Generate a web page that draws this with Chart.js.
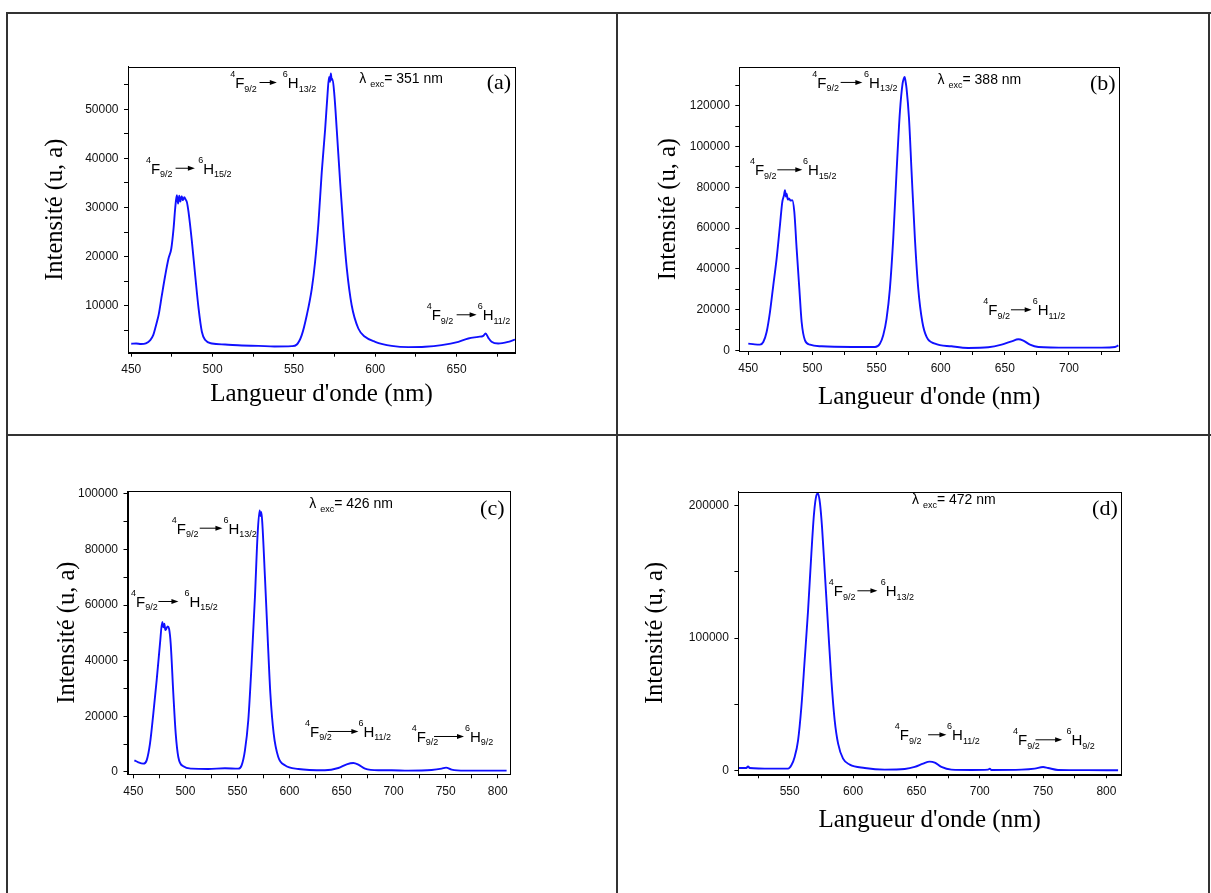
<!DOCTYPE html>
<html>
<head>
<meta charset="utf-8">
<script src="https://cdn.jsdelivr.net/npm/chart.js@4.4.1/dist/chart.umd.min.js"></script>
<style>
  body { margin: 0; background: #fff; width: 1211px; height: 893px; position: relative; overflow: hidden; }
  .ln { position: absolute; background: #333; }
  canvas { position: absolute; }
</style>
</head>
<body>
<!-- lignes du tableau -->
<div class="ln" style="left:6px;top:12px;width:1205px;height:2px"></div>
<div class="ln" style="left:6px;top:434px;width:1205px;height:2px"></div>
<div class="ln" style="left:6px;top:12px;width:2px;height:881px"></div>
<div class="ln" style="left:616px;top:12px;width:2px;height:881px"></div>
<div class="ln" style="left:1208px;top:12px;width:2px;height:881px"></div>

<canvas id="chartA" width="609" height="421" style="left:7px;top:13px"></canvas>
<canvas id="chartB" width="591" height="421" style="left:618px;top:13px"></canvas>
<canvas id="chartC" width="609" height="457" style="left:7px;top:436px"></canvas>
<canvas id="chartD" width="591" height="457" style="left:618px;top:436px"></canvas>

<script>
// (a) excitation 351 nm
const wlA = [450, 453, 456, 459, 461.7, 463.5, 464.7, 466, 466.8, 468.8, 470.9, 472.9, 474.6, 476, 477, 478, 478.8, 479.5, 480.2, 481, 481.8, 482.6, 483.5, 484.2, 485.2, 487.3, 489.3, 491.4, 493.4, 495.5, 499.6, 507.7, 518, 528.2, 538, 548.7, 551.8, 554.8, 557.9, 561, 563, 565.1, 567.1, 569.2, 570.6, 571.6, 572.2, 572.7, 573.2, 573.7, 574.9, 576.3, 578.4, 580.4, 582.5, 585.5, 589.6, 593.7, 599.9, 610.1, 620.4, 630.6, 640.8, 651.1, 657.2, 663.3, 666.4, 667.8, 669.5, 671.5, 675.6, 681.8, 685.9];
const intA = [2250, 2300, 2200, 2350, 3000, 4000, 5360, 7000, 8070, 12100, 16200, 19600, 21600, 25700, 29800, 32500, 30800, 32400, 31200, 32300, 31500, 32100, 31600, 31100, 29100, 23000, 16200, 9400, 4700, 3000, 2300, 2100, 1900, 1830, 1700, 1760, 2100, 4000, 8070, 13500, 18900, 27000, 37200, 46000, 52800, 56600, 55600, 57300, 56000, 56200, 52800, 46000, 35200, 25700, 17600, 10100, 5360, 3660, 2650, 1830, 1560, 1630, 1970, 2650, 3320, 3660, 3870, 4340, 3460, 2650, 2300, 2650, 3100];

// (b) excitation 388 nm
const wlB = [450, 455, 459.1, 461.7, 464.3, 466.9, 469.5, 472.1, 474.7, 476.5, 477.8, 478.6, 479.3, 479.9, 480.8, 481.7, 483, 484.3, 485.9, 487.7, 489.8, 491.6, 494.2, 498.1, 507.2, 530.6, 548.8, 552.6, 555.2, 557.8, 560.4, 563, 565.6, 568.2, 570.3, 571.3, 571.9, 572.6, 573.4, 575.3, 577.3, 579.9, 582.5, 585.7, 589, 595.5, 608.5, 621.5, 637.1, 647.5, 655.3, 660.5, 664.4, 669.6, 676.1, 699.5, 725.5, 735.9, 738.5];
const intB = [3270, 2900, 2780, 4090, 9000, 18800, 31900, 45000, 61400, 72800, 76000, 78600, 75500, 76900, 74000, 74500, 73500, 73700, 67900, 49900, 30300, 13900, 4900, 2780, 1960, 1640, 1640, 3270, 7370, 15550, 30300, 54800, 87600, 117000, 131000, 133500, 134200, 132000, 128500, 113800, 87600, 54800, 30300, 13900, 6550, 3270, 1960, 1150, 1470, 2780, 4420, 5400, 4750, 2780, 1640, 1310, 1310, 1640, 2450];

// (c) excitation 426 nm
const wlC = [451, 454.8, 459.6, 462.8, 466, 469.2, 472.4, 475.6, 477.8, 478.8, 479.8, 480.7, 481.7, 483, 484.3, 485.9, 488.4, 490.7, 493.2, 498, 506, 522, 538, 550.8, 554, 557.2, 560.4, 563.6, 566.8, 569.4, 571.3, 572.1, 572.9, 573.9, 576.4, 579, 581.6, 584.8, 589.2, 595.6, 608.5, 634, 646.9, 654.9, 661.3, 666.1, 672.5, 685.3, 698.1, 714.1, 736.5, 746.1, 750.3, 755.7, 768.5, 790, 808.5];
const intC = [4190, 3470, 3000, 4190, 10200, 21000, 32900, 46100, 53900, 52000, 53300, 51000, 51500, 52300, 51500, 46100, 28200, 13800, 5400, 2040, 1200, 1100, 1320, 1200, 2400, 7800, 18600, 38900, 62900, 85700, 94000, 92000, 93400, 89300, 70100, 48500, 28200, 13800, 5400, 2400, 1080, 600, 1440, 2760, 3230, 2640, 1200, 600, 600, 480, 720, 1200, 1560, 840, 480, 500, 480];

// (d) excitation 472 nm
const wlD = [509.5, 515.8, 517.1, 518.4, 535.5, 548.7, 551.3, 553.9, 556.6, 559.2, 561.8, 564.5, 567.1, 569.2, 571.1, 572.4, 573.9, 575.5, 577.6, 580.3, 582.9, 585.5, 588.2, 592.1, 597.4, 609.2, 625, 640.8, 648.7, 655.3, 660.5, 664.5, 669.7, 677.6, 693.4, 706.6, 707.9, 709.2, 732.9, 743.4, 750, 753.9, 761.8, 785, 809.2];
const intD = [1770, 1770, 3000, 1770, 1260, 1260, 3780, 10100, 22700, 47900, 83200, 121000, 164000, 194200, 208000, 209300, 201800, 184100, 151300, 108400, 68100, 37800, 20200, 8830, 4290, 1770, 500, 1000, 2520, 5040, 6560, 5800, 2520, 500, 250, 500, 1260, 250, 500, 1260, 2520, 1770, 250, 100, 0];

// graduations (majeures avec texte, mineures sans)
const xMajorA = [450, 500, 550, 600, 650];
const xMinorA = [475, 525, 575, 625, 675];
const yMajorA = [10000, 20000, 30000, 40000, 50000];
const yMinorA = [5000, 15000, 25000, 35000, 45000, 55000];

const xMajorB = [450, 500, 550, 600, 650, 700];
const xMinorB = [475, 525, 575, 625, 675, 725];
const yMajorB = [0, 20000, 40000, 60000, 80000, 100000, 120000];
const yMinorB = [10000, 30000, 50000, 70000, 90000, 110000, 130000];

const xMajorC = [450, 500, 550, 600, 650, 700, 750, 800];
const xMinorC = [475, 525, 575, 625, 675, 725, 775];
const yMajorC = [0, 20000, 40000, 60000, 80000, 100000];
const yMinorC = [10000, 30000, 50000, 70000, 90000];

const xMajorD = [550, 600, 650, 700, 750, 800];
const xMinorD = [525, 575, 625, 675, 725, 775];
const yMajorD = [0, 100000, 200000];
const yMinorD = [50000, 150000];

const xTitle = "Langueur d'onde (nm)";
const yTitle = 'Intensité (u, a)';

const serif = '"Liberation Serif", "Times New Roman", serif';
const sans = '"Liberation Sans", Arial, sans-serif';

// dessine 4F9/2 -> 6Hxx/2
function drawTransition(ctx, x, y, t) {
  let cx = x;
  ctx.textAlign = 'left';
  ctx.textBaseline = 'alphabetic';
  ctx.font = '9px ' + sans;
  ctx.fillText('4', cx, y - 11);
  cx += ctx.measureText('4').width;
  ctx.font = '15px ' + sans;
  ctx.fillText('F', cx, y);
  cx += ctx.measureText('F').width;
  ctx.font = '9px ' + sans;
  ctx.fillText('9/2', cx, y + 3.5);
  cx += ctx.measureText('9/2').width + t.a0;
  const ay = y - 5.5;
  ctx.lineWidth = 1;
  ctx.beginPath();
  ctx.moveTo(cx, ay);
  ctx.lineTo(cx + t.len - 5, ay);
  ctx.stroke();
  ctx.beginPath();
  ctx.moveTo(cx + t.len, ay);
  ctx.lineTo(cx + t.len - 7, ay - 2.5);
  ctx.lineTo(cx + t.len - 7, ay + 2.5);
  ctx.closePath();
  ctx.fill();
  cx += t.len + t.g;
  ctx.font = '9px ' + sans;
  ctx.fillText('6', cx, y - 11);
  cx += ctx.measureText('6').width;
  ctx.font = '15px ' + sans;
  ctx.fillText('H', cx, y);
  cx += ctx.measureText('H').width;
  ctx.font = '9px ' + sans;
  ctx.fillText(t.lo, cx, y + 3.5);
}

const panelPlugin = {
  id: 'panel',
  afterDatasetsDraw(chart, args, opts) {
    const ctx = chart.ctx;
    const a = chart.chartArea;
    const sx = chart.scales.x, sy = chart.scales.y;
    ctx.save();
    ctx.strokeStyle = '#000';
    ctx.fillStyle = '#000';
    ctx.lineWidth = 1;
    ctx.strokeRect(Math.round(a.left) + 0.5, Math.round(a.top) + 0.5, Math.round(a.right - a.left), Math.round(a.bottom - a.top));

    opts.trans.forEach(t => {
      drawTransition(ctx, sx.getPixelForValue(t.x), sy.getPixelForValue(t.y), t);
    });

    // lambda exc
    let lx = sx.getPixelForValue(opts.lam.x), ly = sy.getPixelForValue(opts.lam.y);
    ctx.textAlign = 'left';
    ctx.font = '14px ' + sans;
    ctx.fillText('λ ', lx, ly);
    lx += ctx.measureText('λ ').width;
    ctx.font = '9px ' + sans;
    ctx.fillText('exc', lx, ly + 4.5);
    lx += ctx.measureText('exc').width;
    ctx.font = '14px ' + sans;
    ctx.fillText(opts.lam.t, lx, ly);

    ctx.font = '22px ' + serif;
    ctx.fillText(opts.tag.t, sx.getPixelForValue(opts.tag.x), sy.getPixelForValue(opts.tag.y));
    ctx.restore();
  }
};

function makeChart(id, p) {
  const xAll = p.xMajor.concat(p.xMinor).sort((m, n) => m - n);
  const yAll = p.yMajor.concat(p.yMinor).sort((m, n) => m - n);
  const tickGrid = { drawOnChartArea: false, drawTicks: true, tickLength: 4, color: '#000', tickColor: '#000' };
  return new Chart(document.getElementById(id), {
    type: 'line',
    data: {
      datasets: [{
        data: p.wl.map((w, i) => ({ x: w, y: p.val[i] })),
        borderColor: '#1010ff',
        borderWidth: 1.9,
        pointRadius: 0,
        cubicInterpolationMode: 'monotone',
        fill: false
      }]
    },
    options: {
      responsive: false,
      animation: false,
      events: [],
      layout: { padding: p.pad },
      plugins: {
        legend: { display: false },
        tooltip: { enabled: false },
        panel: p.notes
      },
      scales: {
        x: {
          type: 'linear',
          min: p.xMin, max: p.xMax,
          afterBuildTicks: s => { s.ticks = xAll.map(v => ({ value: v })); },
          afterFit: s => { s.height = p.xH; },
          ticks: {
            autoSkip: false, maxRotation: 0, padding: 6,
            color: '#111', font: { family: sans, size: 12 },
            callback: v => p.xMajor.includes(v) ? String(v) : ''
          },
          grid: tickGrid,
          border: { display: true, color: '#000', width: 1 },
          title: { display: p.showX, text: xTitle, color: '#000', padding: 0, font: { family: serif, size: 25 } }
        },
        y: {
          type: 'linear',
          min: p.yMin, max: p.yMax,
          afterBuildTicks: s => { s.ticks = yAll.map(v => ({ value: v })); },
          afterFit: s => { s.width = p.yW; },
          ticks: {
            autoSkip: false, padding: 5.5,
            color: '#111', font: { family: sans, size: 12 },
            callback: v => p.yMajor.includes(v) ? String(v) : ''
          },
          grid: tickGrid,
          border: { display: true, color: '#000', width: 1 },
          title: { display: true, text: yTitle, color: '#000', padding: 0, font: { family: serif, size: 24.5 } }
        }
      }
    },
    plugins: [panelPlugin]
  });
}

makeChart('chartA', {
  wl: wlA, val: intA, xMajor: xMajorA, xMinor: xMinorA, yMajor: yMajorA, yMinor: yMinorA,
  xMin: 448, xMax: 685.9, yMin: 430, yMax: 58680,
  pad: { left: 34.3, top: 53.7, right: 101, bottom: 25 }, yW: 86.7, xH: 56.3, showX: true,
  notes: {
    trans: [
      { x: 510.8, y: 54340, lo: '13/2', a0: 2.7, len: 17.3, g: 6 },
      { x: 459, y: 36880, lo: '15/2', a0: 3, len: 19.3, g: 3.3 },
      { x: 631.6, y: 7030, lo: '11/2', a0: 3.3, len: 20, g: 1 }
    ],
    lam: { x: 590.2, y: 55420, t: '= 351 nm' },
    tag: { x: 668.5, y: 54200, t: '(a)' }
  }
});

makeChart('chartB', {
  wl: wlB, val: intB, xMajor: xMajorB, xMinor: xMinorB, yMajor: yMajorB, yMinor: yMinorB,
  xMin: 443, xMax: 739, yMin: -340, yMax: 138930,
  pad: { left: 35.8, top: 54.3, right: 90, bottom: 22 }, yW: 85.5, xH: 61, showX: true,
  notes: {
    trans: [
      { x: 499.9, y: 128800, lo: '13/2', a0: 1.7, len: 21.7, g: 1.7 },
      { x: 451.3, y: 85900, lo: '15/2', a0: 0.7, len: 25, g: 0.7 },
      { x: 633.2, y: 17180, lo: '11/2', a0: 1, len: 20.7, g: 1 }
    ],
    lam: { x: 597.6, y: 130900, t: '= 388 nm' },
    tag: { x: 716.4, y: 127600, t: '(b)' }
  }
});

makeChart('chartC', {
  wl: wlC, val: intC, xMajor: xMajorC, xMinor: xMinorC, yMajor: yMajorC, yMinor: yMinorC,
  xMin: 444.4, xMax: 810.8, yMin: -830, yMax: 100970,
  pad: { left: 46.3, top: 55, right: 107, bottom: 78.7 }, yW: 74.2, xH: 40, showX: false,
  notes: {
    trans: [
      { x: 486.9, y: 85630, lo: '13/2', a0: 1.3, len: 22.7, g: 1 },
      { x: 447.8, y: 59290, lo: '15/2', a0: 0.7, len: 20, g: 6 },
      { x: 614.9, y: 12580, lo: '11/2', a0: -4, len: 30.7, g: 0 },
      { x: 717.3, y: 10780, lo: '9/2', a0: -4.3, len: 30, g: 1 }
    ],
    lam: { x: 619, y: 94970, t: '= 426 nm' },
    tag: { x: 783, y: 92240, t: '(c)' }
  }
});

makeChart('chartD', {
  wl: wlD, val: intD, xMajor: xMajorD, xMinor: xMinorD, yMajor: yMajorD, yMinor: yMinorD,
  xMin: 509.5, xMax: 811.5, yMin: -3030, yMax: 210700,
  pad: { left: 23.3, top: 55.7, right: 88, bottom: 58 }, yW: 97.1, xH: 60.7, showX: true,
  notes: {
    trans: [
      { x: 580.8, y: 131600, lo: '13/2', a0: 2, len: 20, g: 3.3 },
      { x: 632.9, y: 22700, lo: '11/2', a0: 6.7, len: 18.3, g: 0.7 },
      { x: 726.3, y: 18900, lo: '9/2', a0: -4.3, len: 26.7, g: 4.3 }
    ],
    lam: { x: 646.6, y: 201700, t: '= 472 nm' },
    tag: { x: 788.7, y: 192900, t: '(d)' }
  }
});
</script>
</body>
</html>
